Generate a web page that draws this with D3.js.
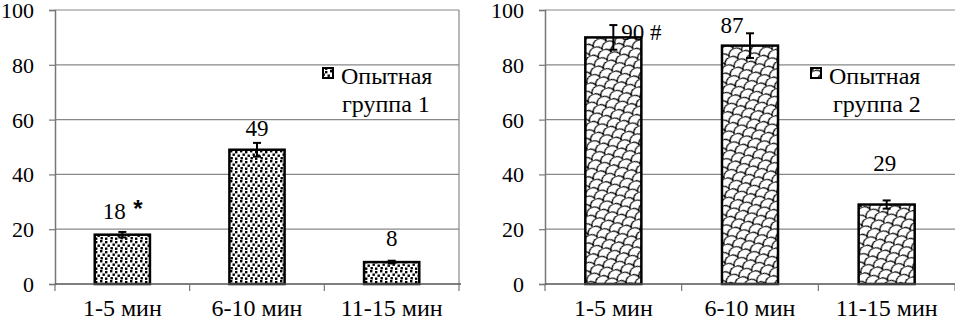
<!DOCTYPE html>
<html>
<head>
<meta charset="utf-8">
<script src="https://cdn.jsdelivr.net/npm/d3@7"></script>
</head>
<body style="margin:0">
<script>
// Data
const categories = ['1-5 мин', '6-10 мин', '11-15 мин'];
const yTicks = [0, 20, 40, 60, 80, 100];

const group1Values = [18, 49, 8];
const group1Errors = [1, 2.5, 0.5];
const group1Labels = ['18', '49', '8'];
const group1Marks = ['*', '', ''];

const group2Values = [90, 87, 29];
const group2Errors = [4.5, 4.5, 1.5];
const group2Labels = ['90 #', '87', '29'];

const width = 955, height = 323;
const serif = 'Liberation Serif';

const svg = d3.select('body')
    .append('svg')
    .attr('width', width)
    .attr('height', height);

// Fill patterns
const defs = svg.append('defs');

const dots = defs.append('pattern')
    .attr('id', 'dots')
    .attr('patternUnits', 'userSpaceOnUse')
    .attr('width', 10)
    .attr('height', 10);
dots.append('rect').attr('width', 10).attr('height', 10).attr('fill', '#fff');
[[0, 0], [5, 1], [2.5, 3.5], [7.5, 4.5], [0.5, 7], [5, 7.5]].forEach(p => {
    dots.append('rect')
        .attr('x', p[0]).attr('y', p[1])
        .attr('width', 2.4).attr('height', 2.4)
        .attr('fill', '#000');
});

// fish-scale like texture, tilted
const scales = defs.append('pattern')
    .attr('id', 'scales')
    .attr('patternUnits', 'userSpaceOnUse')
    .attr('width', 14)
    .attr('height', 12)
    .attr('patternTransform', 'rotate(-25)');
scales.append('rect').attr('width', 14).attr('height', 12).attr('fill', '#fff');
scales.append('path')
    .attr('d', 'M0,6 A7,6 0 0 1 14,6 M-7,12 A7,6 0 0 1 7,12 M7,12 A7,6 0 0 1 21,12 M-7,0 A7,6 0 0 1 7,0 M7,0 A7,6 0 0 1 21,0')
    .attr('fill', 'none')
    .attr('stroke', '#000')
    .attr('stroke-width', 1.2);

function addText(parent, x, y, size, str, anchor) {
    return parent.append('text')
        .attr('x', x)
        .attr('y', y)
        .attr('font-size', size)
        .attr('font-family', serif)
        .attr('text-anchor', anchor || 'start')
        .text(str);
}

// Draw one panel
function drawPanel(opts) {
    const x = d3.scaleBand()
        .domain(categories)
        .range([opts.left, opts.right])
        .paddingInner(0.59)
        .paddingOuter(0.295);

    const y = d3.scaleLinear()
        .domain([0, 100])
        .range([284, 10]);

    const g = svg.append('g');

    // Gridlines
    g.selectAll('.grid')
        .data(yTicks.filter(t => t > 0))
        .enter()
        .append('line')
        .attr('x1', opts.left)
        .attr('x2', opts.right)
        .attr('y1', d => y(d))
        .attr('y2', d => y(d))
        .attr('stroke', '#888')
        .attr('stroke-width', 1.2);

    // Right border of the plot area
    if (opts.border) {
        g.append('line')
            .attr('x1', opts.right).attr('x2', opts.right)
            .attr('y1', y(100)).attr('y2', y(0))
            .attr('stroke', '#888')
            .attr('stroke-width', 1.2);
    }

    // Y axis (lines from d3.axisLeft, labels written in serif)
    const yAxis = g.append('g')
        .attr('transform', `translate(${opts.left},0)`)
        .call(d3.axisLeft(y).tickValues(yTicks).tickSize(6).tickFormat(''));
    yAxis.select('.domain').attr('stroke', '#777').attr('stroke-width', 1.5);
    yAxis.selectAll('.tick line').attr('stroke', '#777').attr('stroke-width', 1.2);
    yTicks.forEach(t => {
        addText(g, opts.left - 21, y(t) + 8, 22, String(t), 'end');
    });

    // Bars
    g.selectAll('.bar')
        .data(opts.values)
        .enter()
        .append('rect')
        .attr('x', (d, i) => x(categories[i]))
        .attr('y', d => y(d))
        .attr('width', x.bandwidth())
        .attr('height', d => y(0) - y(d))
        .attr('fill', `url(#${opts.pattern})`)
        .attr('stroke', '#000')
        .attr('stroke-width', 2.5);

    // Error bars
    const cx = i => x(categories[i]) + x.bandwidth() / 2;
    opts.values.forEach((v, i) => {
        const e = opts.errors[i];
        const eg = g.append('g').attr('stroke', '#000').attr('stroke-width', 2);
        eg.append('line')
            .attr('x1', cx(i)).attr('x2', cx(i))
            .attr('y1', y(v + e)).attr('y2', y(v - e));
        [v + e, v - e].forEach(t => {
            eg.append('line')
                .attr('x1', cx(i) - 4).attr('x2', cx(i) + 4)
                .attr('y1', y(t)).attr('y2', y(t));
        });
    });

    // X axis
    g.append('line')
        .attr('x1', opts.left).attr('x2', opts.right + 2)
        .attr('y1', y(0)).attr('y2', y(0))
        .attr('stroke', '#555')
        .attr('stroke-width', 1.5);
    const step = (opts.right - opts.left) / categories.length;
    d3.range(categories.length + 1).forEach(i => {
        const bx = opts.left + step * i;
        g.append('line')
            .attr('x1', bx).attr('x2', bx)
            .attr('y1', y(0)).attr('y2', y(0) + 7)
            .attr('stroke', '#777')
            .attr('stroke-width', 1.2);
    });
    categories.forEach((c, i) => addText(g, cx(i), 316, 24, c, 'middle'));

    // Value labels
    opts.values.forEach((v, i) => {
        addText(g, cx(i) + opts.labelDx[i], y(v) + opts.labelDy[i], 23,
            opts.labels[i], opts.labelAnchor[i]);
        if (opts.marks && opts.marks[i]) {
            g.append('text')
                .attr('x', cx(i) + 11)
                .attr('y', y(v) - 18)
                .attr('font-size', 24)
                .attr('font-family', 'Liberation Sans')
                .attr('font-weight', 'bold')
                .text(opts.marks[i]);
        }
    });

    // Legend
    g.append('rect')
        .attr('x', opts.legendX)
        .attr('y', 68)
        .attr('width', 10)
        .attr('height', 10)
        .attr('fill', `url(#${opts.pattern})`)
        .attr('stroke', '#000')
        .attr('stroke-width', 2);
    addText(g, opts.legendX + 18, 84, 24, 'Опытная');
    addText(g, opts.legendX + opts.legendLine2Dx, 112, 24, opts.legendName);
}

drawPanel({
    left: 55, right: 459,
    border: true,
    values: group1Values,
    errors: group1Errors,
    labels: group1Labels,
    marks: group1Marks,
    labelDx: [-8, 0, 0],
    labelDy: [-16, -14, -16],
    labelAnchor: ['middle', 'middle', 'middle'],
    pattern: 'dots',
    legendX: 323,
    legendLine2Dx: 19,
    legendName: 'группа 1'
});

drawPanel({
    left: 545, right: 955,
    border: false,
    values: group2Values,
    errors: group2Errors,
    labels: group2Labels,
    labelDx: [8, -18, -2],
    labelDy: [3, -13, -34],
    labelAnchor: ['start', 'middle', 'middle'],
    pattern: 'scales',
    legendX: 811,
    legendLine2Dx: 22,
    legendName: 'группа 2'
});
</script>
</body>
</html>
